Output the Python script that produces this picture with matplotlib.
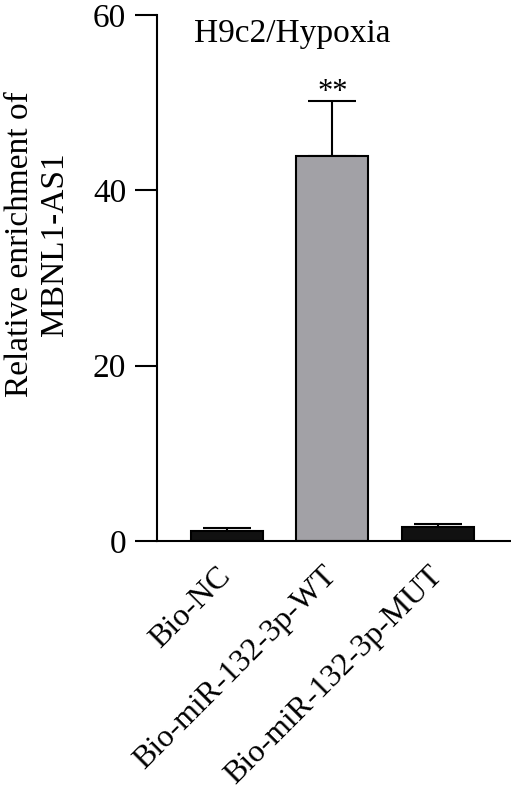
import matplotlib.pyplot as plt

groups = ["Bio-NC", "Bio-miR-132-3p-WT", "Bio-miR-132-3p-MUT"]
means = [1.2, 43.9, 1.6]
errors = [0.3, 6.3, 0.35]
colors = ["#111111", "#a2a1a6", "#111111"]
y_ticks = [0, 20, 40, 60]

plt.rcParams["font.family"] = ["Liberation Serif", "DejaVu Serif"]

fig = plt.figure(figsize=(5.11, 7.94), dpi=100)
ax = fig.add_axes([0.307, 0.3186, 0.691, 0.6625])

x = list(range(len(groups)))
ax.bar(x, means, width=0.68, color=colors, edgecolor="black", linewidth=1.5, zorder=2)
ax.errorbar(x, means, yerr=[[0] * len(errors), errors], fmt="none", ecolor="black",
            elinewidth=1.5, capsize=17, capthick=1.5, zorder=1)

ax.text(1, means[1] + errors[1] - 0.7, "**", ha="center", va="bottom", fontsize=22)
ax.text(0.62, 59.6, "H9c2/Hypoxia", ha="center", va="top", fontsize=24)

ax.set_xlim(-0.66, 2.68)
ax.set_ylim(0, 60)
ax.set_yticks(y_ticks)
ax.set_xticks(x)
ax.set_xticklabels(groups, rotation=45, ha="right", va="center",
                   rotation_mode="anchor", fontsize=23)
ax.tick_params(axis="y", labelsize=24, length=16, width=1.5, pad=6)
ax.tick_params(axis="x", length=0, pad=22)
ax.set_ylabel("Relative enrichment of\nMBNL1-AS1", fontsize=24)
ax.yaxis.set_label_coords(-0.245, 0.565)

for s in ["top", "right"]:
    ax.spines[s].set_visible(False)
for s in ["left", "bottom"]:
    ax.spines[s].set_linewidth(1.5)

fig.savefig("out.png", dpi=100)
